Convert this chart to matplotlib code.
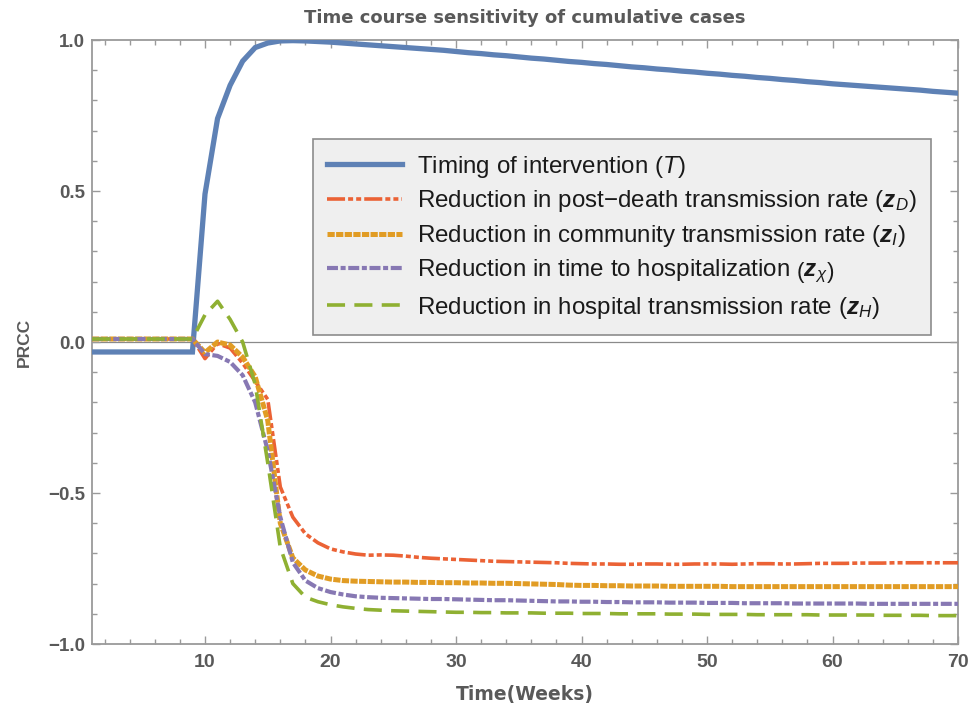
import matplotlib
matplotlib.use("Agg")
import matplotlib.pyplot as plt
from matplotlib.ticker import MultipleLocator

# %%
weeks = list(range(1, 71))

# PRCC of cumulative cases for each parameter, one value per week
prcc_T = [-0.033] * 9 + [
    0.49, 0.74, 0.85, 0.93, 0.975, 0.99, 0.997, 0.998, 0.997, 0.995,
    0.993, 0.990, 0.987, 0.984, 0.981, 0.978, 0.975, 0.972, 0.969, 0.966,
    0.962, 0.958, 0.955, 0.951, 0.948, 0.944, 0.940, 0.937, 0.933, 0.929,
    0.926, 0.922, 0.919, 0.915, 0.911, 0.908, 0.904, 0.901, 0.897, 0.894,
    0.890, 0.887, 0.883, 0.880, 0.876, 0.873, 0.869, 0.866, 0.862, 0.859,
    0.855, 0.852, 0.849, 0.846, 0.843, 0.840, 0.837, 0.834, 0.830, 0.827,
    0.824,
]
prcc_zD = [0.01] * 9 + [
    -0.055, -0.005, -0.02, -0.07, -0.13, -0.19, -0.48, -0.58, -0.635, -0.665,
    -0.685, -0.695, -0.702, -0.706, -0.705, -0.706, -0.709, -0.713, -0.716, -0.718,
    -0.720, -0.722, -0.724, -0.726, -0.727, -0.728, -0.729, -0.730, -0.731, -0.733,
    -0.734, -0.735, -0.735, -0.736, -0.736, -0.735, -0.735, -0.736, -0.736, -0.735,
    -0.735, -0.735, -0.736, -0.735, -0.734, -0.734, -0.735, -0.735, -0.734, -0.733,
    -0.733, -0.733, -0.732, -0.732, -0.732, -0.731, -0.731, -0.731, -0.731, -0.731,
    -0.731,
]
prcc_zI = [0.01] * 9 + [
    -0.035, 0.0, -0.01, -0.05, -0.115, -0.26, -0.60, -0.715, -0.755, -0.775,
    -0.785, -0.790, -0.792, -0.793, -0.794, -0.795, -0.795, -0.796, -0.796, -0.797,
    -0.797, -0.798, -0.798, -0.799, -0.799, -0.800, -0.801, -0.802, -0.803, -0.805,
    -0.806, -0.806, -0.807, -0.807, -0.808, -0.808, -0.808, -0.809, -0.809, -0.809,
    -0.809, -0.809, -0.810, -0.810, -0.810, -0.810, -0.810, -0.810, -0.810, -0.810,
    -0.810, -0.810, -0.810, -0.810, -0.810, -0.810, -0.810, -0.810, -0.810, -0.810,
    -0.810,
]
prcc_zX = [0.01] * 9 + [
    -0.04, -0.046, -0.066, -0.11, -0.20, -0.36, -0.58, -0.73, -0.79, -0.815,
    -0.828, -0.836, -0.842, -0.845, -0.847, -0.848, -0.849, -0.850, -0.851, -0.851,
    -0.852, -0.853, -0.854, -0.855, -0.855, -0.856, -0.857, -0.858, -0.859, -0.859,
    -0.860, -0.860, -0.861, -0.861, -0.862, -0.862, -0.862, -0.863, -0.863, -0.863,
    -0.864, -0.864, -0.864, -0.865, -0.865, -0.865, -0.865, -0.866, -0.866, -0.866,
    -0.866, -0.866, -0.866, -0.867, -0.867, -0.867, -0.867, -0.867, -0.867, -0.867,
    -0.867,
]
prcc_zH = [0.01] * 9 + [
    0.09, 0.135, 0.075, 0.0, -0.14, -0.40, -0.68, -0.80, -0.845, -0.86,
    -0.870, -0.877, -0.882, -0.886, -0.888, -0.890, -0.891, -0.892, -0.893, -0.894,
    -0.895, -0.895, -0.896, -0.896, -0.897, -0.897, -0.897, -0.898, -0.898, -0.898,
    -0.899, -0.899, -0.899, -0.900, -0.900, -0.900, -0.900, -0.901, -0.901, -0.901,
    -0.902, -0.902, -0.902, -0.902, -0.903, -0.903, -0.903, -0.903, -0.903, -0.904,
    -0.904, -0.904, -0.904, -0.904, -0.905, -0.905, -0.905, -0.905, -0.906, -0.906,
    -0.906,
]

labels = [
    r"Timing of intervention ($\mathit{T}$)",
    r"Reduction in post$-$death transmission rate ($\mathbfit{z}_{D}$)",
    r"Reduction in community transmission rate ($\mathbfit{z}_{I}$)",
    r"Reduction in time to hospitalization $\left(\mathbfit{z}_{\chi}\right)$",
    r"Reduction in hospital transmission rate ($\mathbfit{z}_{H}$)",
]

# %%
plt.rcParams["lines.scale_dashes"] = False
plt.rcParams["mathtext.fontset"] = "custom"
plt.rcParams["mathtext.rm"] = "Liberation Sans"
plt.rcParams["mathtext.it"] = "Liberation Sans:italic"
plt.rcParams["mathtext.bf"] = "Liberation Sans:bold"
plt.rcParams["mathtext.bfit"] = "Liberation Sans:bold:italic"

arial = ["Liberation Sans", "DejaVu Sans"]
gray = "#595959"
frame = "#9a9a9a"

fig = plt.figure(figsize=(9.73, 7.12), dpi=100)
ax = fig.add_axes([0.0946, 0.0955, 0.8900, 0.8483])

ax.axhline(0, color="#8a8a8a", lw=0.9, zorder=1)

ax.plot(weeks, prcc_T, color="#5E81B5", lw=3.8, solid_joinstyle="miter", label=labels[0], zorder=3)
ax.plot(weeks, prcc_zD, color="#EB6235", lw=2.6, dashes=(13, 2.2, 3.6, 2.2, 3.6, 2.2), label=labels[1], zorder=3)
ax.plot(weeks, prcc_zI, color="#E19C24", lw=3.6, dashes=(5.2, 1.0), label=labels[2], zorder=3)
ax.plot(weeks, prcc_zX, color="#8778B3", lw=3.0, dashes=(7.9, 1.9, 3.6, 1.9), label=labels[3], zorder=3)
ax.plot(weeks, prcc_zH, color="#8FB032", lw=2.6, dashes=(13, 6.7), label=labels[4], zorder=3)

ax.set_xlim(1, 70)
ax.set_ylim(-1, 1)
ax.xaxis.set_major_locator(MultipleLocator(10))
ax.xaxis.set_minor_locator(MultipleLocator(2))
ax.yaxis.set_major_locator(MultipleLocator(0.5))
ax.yaxis.set_minor_locator(MultipleLocator(0.1))
ax.set_yticks([-1, -0.5, 0, 0.5, 1])
ax.set_yticklabels(["\u22121.0", "\u22120.5", "0.0", "0.5", "1.0"])

ax.tick_params(which="both", direction="in", top=True, right=True, color=frame, width=1)
ax.tick_params(which="major", length=6)
ax.tick_params(which="minor", length=3.5)
ax.tick_params(axis="x", pad=7, labelcolor=gray)
ax.tick_params(axis="y", pad=5, labelcolor=gray)
for lab in ax.get_xticklabels():
    lab.set_family(arial)
    lab.set_fontsize(14)
    lab.set_fontweight("bold")
for lab in ax.get_yticklabels():
    lab.set_family(arial)
    lab.set_fontsize(13.5)
    lab.set_fontweight("bold")

for sp in ax.spines.values():
    sp.set_color(frame)
    sp.set_linewidth(1.3)

ax.set_title("Time course sensitivity of cumulative cases", fontsize=13,
             fontweight="bold", color=gray, pad=12)
ax.set_xlabel("Time(Weeks)", fontsize=13.5, fontweight="bold", color=gray, labelpad=10)
ax.set_ylabel("PRCC", family=arial, fontsize=12.5, fontweight="bold", color=gray, labelpad=12)

leg = ax.legend(loc="upper left", bbox_to_anchor=(0.255, 0.836), fancybox=False,
                prop={"family": "Liberation Sans", "size": 17.4}, handlelength=3.1,
                handletextpad=0.62, labelspacing=0.36, borderpad=0.6, borderaxespad=0,
                framealpha=1)
leg.get_frame().set_facecolor("#efefef")
leg.get_frame().set_edgecolor("#8c8c8c")
leg.get_frame().set_linewidth(1.2)
for t in leg.get_texts():
    t.set_color("#1a1a1a")

fig.savefig("out.png", dpi=100)
